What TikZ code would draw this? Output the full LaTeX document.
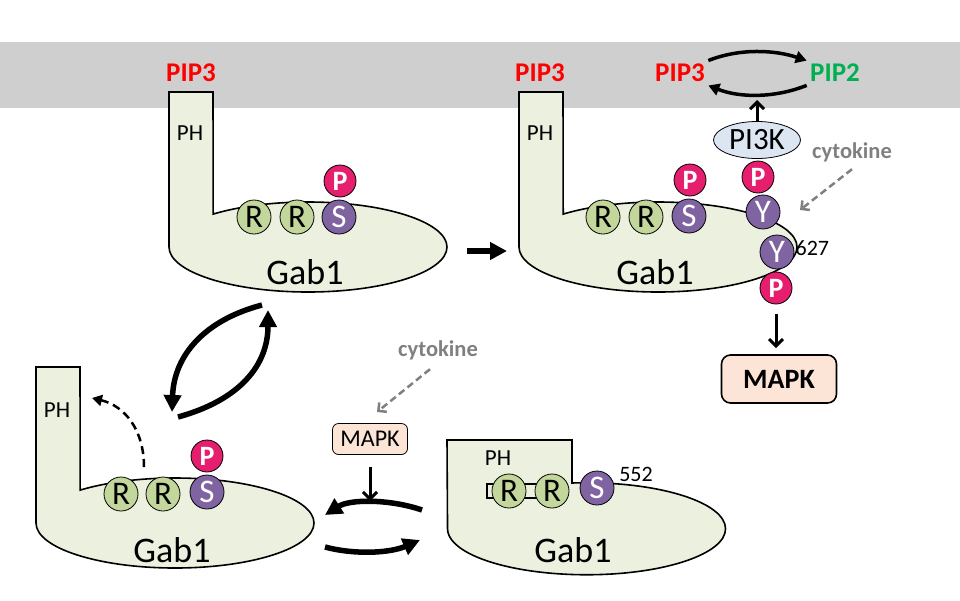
\documentclass[tikz,border=0pt]{standalone}
\usepackage{fontspec}
\setmainfont{Carlito}
\usepackage{xcolor}
\usetikzlibrary{arrows.meta,positioning,shapes.geometric}

\definecolor{membrane}{HTML}{CFCFCF}
\definecolor{gabfill}{HTML}{EBF1DE}
\definecolor{rfill}{HTML}{C3D69B}
\definecolor{sfill}{HTML}{8064A2}
\definecolor{pfill}{HTML}{E61E6E}
\definecolor{pifill}{HTML}{DCE6F2}
\definecolor{mapkfill}{HTML}{FCE4D6}
\definecolor{pipred}{HTML}{FF0000}
\definecolor{pipgreen}{HTML}{00B050}
\definecolor{cytogray}{HTML}{808080}

\begin{document}
\begin{tikzpicture}[x=1pt, y=-1pt,
    gab/.style={draw, fill=gabfill, line width=1.6pt},
    rres/.style={circle, draw, line width=0.8pt, fill=rfill, minimum size=34pt, inner sep=0pt, font=\fontsize{33}{33}\selectfont},
    sres/.style={rres, fill=sfill, text=white},
    phos/.style={circle, draw, line width=0.8pt, fill=pfill, text=white, minimum size=32pt, inner sep=0pt, font=\bfseries\fontsize{28}{28}\selectfont},
    pip/.style={font=\bfseries\fontsize{27}{27}\selectfont, text=pipred},
    ph/.style={font=\fontsize{23}{23}\selectfont},
    gabtext/.style={font=\fontsize{36}{36}\selectfont},
    cyto/.style={font=\bfseries\fontsize{22.5}{23}\selectfont, text=cytogray},
    big/.style={line width=5.5pt, -{Triangle[length=17pt,width=17pt]}},
    arr/.style={line width=3pt, -{Straight Barb[length=7pt,width=14pt]}},
    cyc/.style={line width=3.5pt, -{Triangle[length=11pt,width=12pt]}},
    cytoarr/.style={line width=2.5pt, cytogray, dash pattern=on 7pt off 4pt, -{Straight Barb[length=6pt,width=12pt]}}]
    \useasboundingbox (0,0) rectangle (960,600);

    % membrane
    \fill[membrane] (0,42) rectangle (960,108);

    % Gab1 at the membrane
    \draw[gab] (169,92) -- (169,247) arc[start angle=180, end angle=0, x radius=139, y radius=45]
        arc[start angle=0, end angle=-133, x radius=139, y radius=45] -- (213,92) -- cycle;
    \node[pip] (pip3a) at (191,73) {PIP3};
    \node[ph] (pha) at (190,133) {PH};
    \node[gabtext] (gaba) at (305,272) {Gab1};
    \node[rres] (ra1) at (254,217) {R};
    \node[rres] (ra2) at (297,217) {R};
    \node[sres] (sa) at (339,217) {S};
    \node[phos] (pa) at (340,181) {P};

    % Gab1 with PI3K
    \draw[gab] (519,92) -- (519,247) arc[start angle=180, end angle=0, x radius=139, y radius=45]
        arc[start angle=0, end angle=-133, x radius=139, y radius=45] -- (563,92) -- cycle;
    \node[pip] (pip3b) at (540,73) {PIP3};
    \node[ph] (phb) at (540,133) {PH};
    \node[gabtext] (gabb) at (655,272) {Gab1};
    \node[rres] (rb1) at (603,217) {R};
    \node[rres] (rb2) at (646,217) {R};
    \node[sres] (sb) at (689,216) {S};
    \node[phos] (pb) at (690,180) {P};
    \node[sres] (yb) at (763,212) {Y};
    \node[phos] (pyb) at (758,177) {P};
    \node[sres] (y627) at (777,252) {Y};
    \node[phos] (p627) at (776,288) {P};
    \node[font=\fontsize{22}{22}\selectfont, right=0pt of y627.east, yshift=4pt, inner sep=1pt] (n627) {627};
    \node[ellipse, draw, line width=0.8pt, fill=pifill, minimum width=87pt, minimum height=37pt, inner sep=0pt,
        font=\fontsize{31}{31}\selectfont] (pi3k) at (757,140) {PI3K};
    \node[pip] (pip3c) at (680,73) {PIP3};
    \node[pip, text=pipgreen] (pip2) at (835,73) {PIP2};
    \node[cyto] (cytoa) at (852,152) {cytokine};
    \node[draw, line width=1.6pt, fill=mapkfill, rounded corners=9pt, minimum width=115pt, minimum height=48pt,
        font=\bfseries\fontsize{28}{28}\selectfont] (mapk) at (779,379) {MAPK};
    \coordinate (mem) at (757,100);
    \coordinate (ytip) at (800,210);
    \draw[arr] (pi3k) -- (mem);
    \draw[cyc] (pip3c.north east) .. controls (740,48) and (775,50) .. (pip2.north west);
    \draw[cyc] (pip2.south west) .. controls (775,98) and (740,98) .. (pip3c.south east);
    \draw[cytoarr] (cytoa.south) ++(0,4) coordinate (ca) (ca) -- (ytip);
    \draw[arr, shorten <=10pt, shorten >=6pt] (p627) -- (p627 |- mapk.north);

    % Gab1 released
    \draw[gab] (36,367) -- (36,523) arc[start angle=180, end angle=0, x radius=139, y radius=45]
        arc[start angle=0, end angle=-133, x radius=139, y radius=45] -- (80,367) -- cycle;
    \node[ph] (phc) at (57,410) {PH};
    \node[gabtext] (gabc) at (172,550) {Gab1};
    \node[rres] (rc1) at (121,494) {R};
    \node[rres] (rc2) at (163,494) {R};
    \node[sres] (sc) at (207,492) {S};
    \node[phos] (pc) at (207,456) {P};
    \coordinate (dstart) at (144,467);
    \coordinate (dend) at (92,398);
    \draw[line width=2.5pt, dash pattern=on 8pt off 5pt, -{Triangle[length=10pt,width=11pt]}]
        (dstart) .. controls (144,430) and (125,406) .. (dend);

    % Gab1 folded
    \draw[gab] (447,440) -- (572,440) -- (572,483) arc[start angle=-96, end angle=180, x radius=139, y radius=46] -- cycle;
    \draw[gab, line width=1.2pt] (487,484) rectangle (560,498);
    \node[ph] (phd) at (498,458) {PH};
    \node[gabtext] (gabd) at (573,550) {Gab1};
    \node[rres] (rd1) at (509,491) {R};
    \node[rres] (rd2) at (552,491) {R};
    \node[sres] (sd) at (597,488) {S};
    \node[font=\fontsize{22}{22}\selectfont] (n552) at (636,474) {552};
    \node[cyto] (cytob) at (438,350) {cytokine};
    \node[draw, line width=0.8pt, fill=mapkfill, rounded corners=6pt, minimum width=75pt, minimum height=31pt,
        font=\fontsize{24}{24}\selectfont] (mapks) at (370,439) {MAPK};
    \draw[cytoarr] (cytob.south) ++(-8,6) coordinate (cb) (cb) -- (377,412) coordinate (cbend);

    % transitions
    \coordinate (h1) at (467,251);
    \coordinate (h2) at (507,251);
    \draw[big] (h1) -- (h2);
    \coordinate (l1) at (262,305);
    \coordinate (l2) at (172,412);
    \coordinate (l3) at (178,417);
    \coordinate (l4) at (268,310);
    \draw[big] (l1) .. controls (205,320) and (174,355) .. (l2);
    \draw[big] (l3) .. controls (240,400) and (268,365) .. (l4);
    \coordinate (b1) at (422,510);
    \coordinate (b2) at (325,515);
    \coordinate (b3) at (325,547);
    \coordinate (b4) at (420,540);
    \coordinate (btop) at (368,501);
    \draw[big] (b1) .. controls (390,499) and (350,499) .. (b2);
    \draw[big] (b3) .. controls (355,555) and (390,553) .. (b4);
    \draw[arr, shorten <=12pt] (mapks) -- (mapks |- btop);
\end{tikzpicture}
\end{document}
